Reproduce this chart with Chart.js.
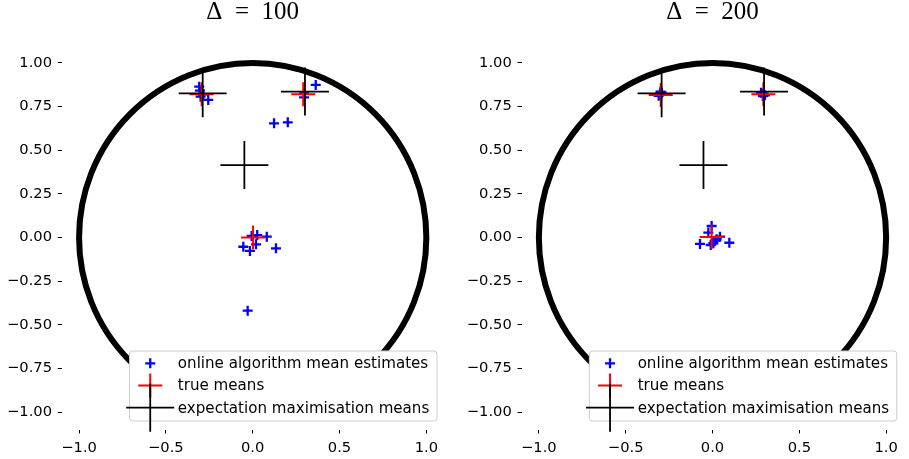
<!DOCTYPE html>
<html>
<head>
<meta charset="utf-8">
<script src="https://cdn.jsdelivr.net/npm/chart.js@4"></script>
<style>
    body { margin: 0; background: #fff; }
    .row { display: flex; width: 909px; height: 459px; }
    canvas { display: block; }
</style>
</head>
<body>
<div class="row">
    <canvas id="chart100" width="455" height="459"></canvas>
    <canvas id="chart200" width="454" height="459"></canvas>
</div>
<script>
// Marcas de los ejes
const xTicks = [-1, -0.5, 0, 0.5, 1];
const yTicks = [-1, -0.75, -0.5, -0.25, 0, 0.25, 0.5, 0.75, 1];
const circleRadius = 1;

// Textos de la leyenda
const legendLabels = ['online algorithm mean estimates', 'true means', 'expectation maximisation means'];

// Delta = 100
const online100X = [-0.308, -0.304, -0.285, -0.300, -0.256, 0.363, 0.296, 0.296, 0.123, 0.202,
    -0.006, 0.026, 0.081, 0.019, -0.054, -0.016, 0.134, -0.029];
const online100Y = [0.864, 0.841, 0.820, 0.807, 0.788, 0.874, 0.826, 0.803, 0.654, 0.660,
    0.009, 0.014, 0.005, -0.039, -0.053, -0.077, -0.062, -0.419];
const true100X = [-0.294, 0.291, 0.002];
const true100Y = [0.820, 0.820, 0.000];
const em100X = [-0.288, 0.301, -0.048];
const em100Y = [0.826, 0.836, 0.415];

// Delta = 200
const online200X = [-0.302, -0.296, -0.310, -0.299, -0.292, 0.293, 0.280, 0.302, 0.290,
    -0.005, -0.024, -0.072, 0.097, 0.043, 0.014, 0.005, 0.024, -0.010];
const online200Y = [0.826, 0.818, 0.812, 0.836, 0.830, 0.826, 0.830, 0.815, 0.810,
    0.066, 0.028, -0.037, -0.030, 0.005, -0.018, -0.033, -0.010, -0.043];
const true200X = [-0.298, 0.293, -0.005];
const true200Y = [0.817, 0.820, 0.003];
const em200X = [-0.293, 0.297, -0.052];
const em200Y = [0.826, 0.836, 0.415];

const tickFont = { family: 'DejaVu Sans', size: 14.7 };

function toPoints(xs, ys) {
    return xs.map((x, i) => ({ x: x, y: ys[i] }));
}

function formatTick(value, decimals) {
    return value.toFixed(decimals).replace('-', '\u2212');
}

// Circulo unidad detras de los puntos
const circlePlugin = {
    id: 'unitCircle',
    beforeDatasetsDraw(chart) {
        const ctx = chart.ctx;
        const xs = chart.scales.x;
        const ys = chart.scales.y;
        const cx = xs.getPixelForValue(0);
        const cy = ys.getPixelForValue(0);
        const rx = xs.getPixelForValue(circleRadius) - cx;
        const ry = cy - ys.getPixelForValue(circleRadius);
        ctx.save();
        ctx.beginPath();
        ctx.ellipse(cx, cy, rx, ry, 0, 0, Math.PI * 2);
        ctx.lineWidth = 6;
        ctx.strokeStyle = '#000';
        ctx.stroke();
        ctx.restore();
    }
};

// Leyenda dentro del area, abajo a la derecha (como matplotlib)
const legendPlugin = {
    id: 'innerLegend',
    afterDraw(chart) {
        const ctx = chart.ctx;
        const area = chart.chartArea;
        ctx.save();
        ctx.font = '15.1px "DejaVu Sans"';
        const textW = Math.max(...legendLabels.map(t => ctx.measureText(t).width));
        const boxW = 48.3 + textW + 7.7;
        const boxH = 70;
        const right = area.right - 6.7;
        const bottom = area.bottom - 8.5;
        const left = right - boxW;
        const top = bottom - boxH;

        ctx.beginPath();
        ctx.roundRect(left, top, boxW, boxH, 3);
        ctx.fillStyle = '#ffffff';
        ctx.fill();
        ctx.lineWidth = 1;
        ctx.strokeStyle = '#cccccc';
        ctx.stroke();

        chart.data.datasets.forEach((ds, i) => {
            const y = top + 12.3 + i * 22.2;
            const x = left + 20.7;
            const r = ds.pointRadius;
            ctx.beginPath();
            ctx.moveTo(x - r, y);
            ctx.lineTo(x + r, y);
            ctx.moveTo(x, y - r);
            ctx.lineTo(x, y + r);
            ctx.lineWidth = ds.pointBorderWidth;
            ctx.strokeStyle = ds.borderColor;
            ctx.stroke();

            ctx.fillStyle = '#000';
            ctx.textBaseline = 'middle';
            ctx.textAlign = 'left';
            ctx.fillText(legendLabels[i], left + 48.3, y + 1);
        });
        ctx.restore();
    }
};

function makeChart(canvasId, title, onlineX, onlineY, trueX, trueY, emX, emY, yAxisWidth, rightPad) {
    const ctx = document.getElementById(canvasId).getContext('2d');
    return new Chart(ctx, {
        type: 'scatter',
        data: {
            datasets: [{
                label: legendLabels[0],
                data: toPoints(onlineX, onlineY),
                pointStyle: 'cross',
                pointRadius: 5,
                pointBorderWidth: 2.3,
                borderColor: '#0000ff',
                backgroundColor: '#0000ff',
                order: 3
            }, {
                label: legendLabels[1],
                data: toPoints(trueX, trueY),
                pointStyle: 'cross',
                pointRadius: 12,
                pointBorderWidth: 2,
                borderColor: '#ff0000',
                backgroundColor: '#ff0000',
                order: 2
            }, {
                label: legendLabels[2],
                data: toPoints(emX, emY),
                pointStyle: 'cross',
                pointRadius: 24,
                pointBorderWidth: 1.8,
                borderColor: '#000000',
                backgroundColor: '#000000',
                order: 1
            }]
        },
        options: {
            responsive: false,
            animation: false,
            devicePixelRatio: 1,
            layout: { autoPadding: false, padding: { left: 0, right: rightPad, top: 0, bottom: 0 } },
            plugins: {
                legend: { display: false },
                tooltip: { enabled: false },
                title: {
                    display: true,
                    text: title,
                    fullSize: false,
                    color: '#000',
                    font: { family: 'Liberation Serif', size: 25, weight: 'normal', lineHeight: 1 },
                    padding: { top: 0, bottom: 20.5 }
                }
            },
            scales: {
                x: {
                    type: 'linear',
                    min: -1.1,
                    max: 1.1,
                    border: { display: false },
                    grid: { drawOnChartArea: false, drawTicks: true, tickLength: 4, color: '#000', lineWidth: 1 },
                    ticks: {
                        color: '#000',
                        font: tickFont,
                        padding: 6,
                        maxRotation: 0,
                        autoSkip: false,
                        callback: v => formatTick(v, 1)
                    },
                    afterBuildTicks: scale => { scale.ticks = xTicks.map(v => ({ value: v })); },
                    afterFit: scale => {
                        scale.height = 29.5;
                        scale.paddingLeft = 0;
                        scale.paddingRight = 0;
                    }
                },
                y: {
                    type: 'linear',
                    min: -1.1,
                    max: 1.1,
                    border: { display: false },
                    grid: { drawOnChartArea: false, drawTicks: true, tickLength: 4, color: '#000', lineWidth: 1 },
                    ticks: {
                        color: '#000',
                        font: tickFont,
                        padding: 5.7,
                        autoSkip: false,
                        callback: v => formatTick(v, 2)
                    },
                    afterBuildTicks: scale => { scale.ticks = yTicks.map(v => ({ value: v })); },
                    afterFit: scale => {
                        scale.width = yAxisWidth;
                        scale.paddingTop = 0;
                        scale.paddingBottom = 0;
                    }
                }
            }
        },
        plugins: [circlePlugin, legendPlugin]
    });
}

makeChart('chart100', '\u0394\u2002=\u2002100', online100X, online100Y, true100X, true100Y, em100X, em100Y, 61.7, 11.3);
makeChart('chart200', '\u0394\u2002=\u2002200', online200X, online200Y, true200X, true200Y, em200X, em200Y, 66.5, 5.5);
</script>
</body>
</html>
